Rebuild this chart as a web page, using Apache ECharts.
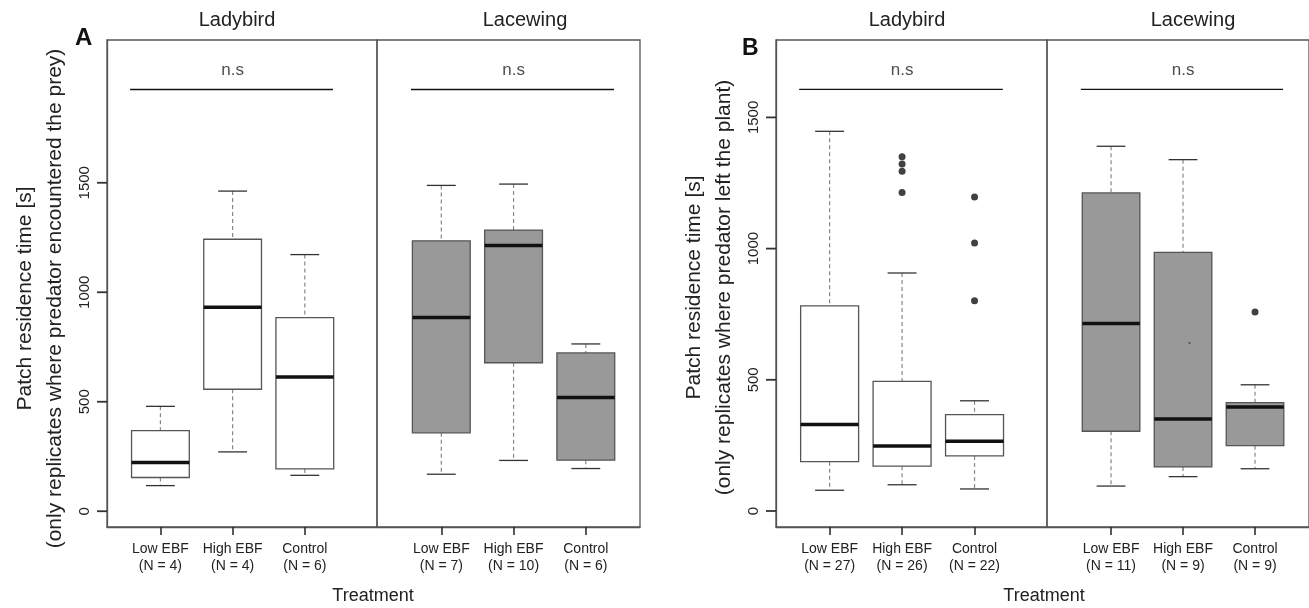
<!DOCTYPE html>
<html>
<head>
<meta charset="utf-8">
<script src="https://cdn.jsdelivr.net/npm/echarts@6/dist/echarts.min.js"></script>
<style>
  html, body { margin: 0; padding: 0; background: #fff; }
  #chart { width: 1309px; height: 608px; }
</style>
</head>
<body>
<div id="chart"></div>
<script>
// treatments on the x axis
const treatments = ['Low EBF', 'High EBF', 'Control'];

// sample sizes
const nA_ladybird = [4, 4, 6];
const nA_lacewing = [7, 10, 6];
const nB_ladybird = [27, 26, 22];
const nB_lacewing = [11, 9, 9];

// box stats: [lower whisker, Q1, median, Q3, upper whisker]
const boxA_ladybird = [
  [117, 154, 222, 368, 479],
  [271, 557, 932, 1242, 1462],
  [164, 193, 613, 884, 1172]
];
const boxA_lacewing = [
  [169, 358, 885, 1235, 1488],
  [232, 678, 1214, 1284, 1494],
  [195, 233, 519, 723, 764]
];
const boxB_ladybird = [
  [79, 188, 330, 782, 1447],
  [100, 171, 248, 494, 907],
  [84, 210, 266, 367, 420]
];
const boxB_lacewing = [
  [95, 304, 715, 1212, 1390],
  [131, 168, 351, 986, 1339],
  [161, 249, 396, 413, 481]
];

// outliers: [treatment position, value]
const outB_ladybird = [[2, 1350], [2, 1322], [2, 1295], [2, 1214], [3, 1197], [3, 1021], [3, 801]];
const outB_lacewing = [[3, 758]];
const dotB_lacewing = [[2.09, 640]];

const yTicks = [0, 500, 1000, 1500];
const sigA = 1926;   // height of n.s bar, panel A
const sigB = 1607;   // panel B
const sigSpan = [0.58, 3.39];

const font = 'Liberation Sans, Arial, Helvetica, sans-serif';

function tickLabels(ns) {
  return function (v) {
    const i = Math.round(v) - 1;
    return treatments[i] + '\n(N = ' + ns[i] + ')';
  };
}

function renderBox(fill) {
  return function (params, api) {
    const x = api.value(0);
    const half = api.size([0.4, 0])[0];
    const capHalf = api.size([0.2, 0])[0];
    const lo = api.coord([x, api.value(1)]);
    const q1 = api.coord([x, api.value(2)]);
    const med = api.coord([x, api.value(3)]);
    const q3 = api.coord([x, api.value(4)]);
    const hi = api.coord([x, api.value(5)]);
    const cx = lo[0];
    const dash = { stroke: '#888', lineWidth: 1.2, lineDash: [4, 3] };
    const cap = { stroke: '#333', lineWidth: 1.3 };
    return {
      type: 'group',
      children: [
        { type: 'line', shape: { x1: cx, y1: hi[1], x2: cx, y2: q3[1] }, style: dash },
        { type: 'line', shape: { x1: cx, y1: q1[1], x2: cx, y2: lo[1] }, style: dash },
        { type: 'line', shape: { x1: cx - capHalf, y1: hi[1], x2: cx + capHalf, y2: hi[1] }, style: cap },
        { type: 'line', shape: { x1: cx - capHalf, y1: lo[1], x2: cx + capHalf, y2: lo[1] }, style: cap },
        { type: 'rect', shape: { x: cx - half, y: q3[1], width: half * 2, height: q1[1] - q3[1] },
          style: { fill: fill, stroke: '#555', lineWidth: 1.3 } },
        { type: 'line', shape: { x1: cx - half, y1: med[1], x2: cx + half, y2: med[1] },
          style: { stroke: '#111', lineWidth: 3.5 } }
      ]
    };
  };
}

const facets = [
  { left: 107, width: 270, xr: [0.26, 4.0], yr: [-72, 2152], ns: nA_ladybird, box: boxA_ladybird, fill: '#ffffff', sig: sigA, out: [],
    yName: 'Patch residence time [s]\n(only replicates where predator encountered the prey)', yShift: 30 },
  { left: 377, width: 263, xr: [0.11, 3.75], yr: [-72, 2152], ns: nA_lacewing, box: boxA_lacewing, fill: '#999999', sig: sigA, out: [] },
  { left: 776, width: 271, xr: [0.26, 4.0], yr: [-61, 1795], ns: nB_ladybird, box: boxB_ladybird, fill: '#ffffff', sig: sigB, out: outB_ladybird,
    yName: 'Patch residence time [s]\n(only replicates where predator left the plant)', yShift: 8 },
  { left: 1047, width: 263, xr: [0.11, 3.75], yr: [-61, 1795], ns: nB_lacewing, box: boxB_lacewing, fill: '#999999', sig: sigB, out: outB_lacewing }
];

const grid = [], xAxis = [], yAxis = [], series = [];

facets.forEach(function (f, k) {
  grid.push({ left: f.left, top: 40, width: f.width, height: 487, show: true,
    borderColor: '#555', borderWidth: 1.3, backgroundColor: 'transparent' });
  xAxis.push({
    type: 'value', gridIndex: k, min: f.xr[0], max: f.xr[1],
    axisLine: { show: true, onZero: false, lineStyle: { color: '#555', width: 1.3 } },
    splitLine: { show: false },
    axisTick: { show: true, customValues: [1, 2, 3], length: 8, lineStyle: { color: '#222', width: 1.5 } },
    axisLabel: { show: true, customValues: [1, 2, 3], formatter: tickLabels(f.ns), margin: 14,
      fontSize: 14, lineHeight: 17, color: '#222', fontFamily: font }
  });
  const hasY = !!f.yName;
  yAxis.push({
    type: 'value', gridIndex: k, min: f.yr[0], max: f.yr[1], show: hasY,
    axisLine: { show: true, onZero: false, lineStyle: { color: '#555', width: 1.3 } },
    splitLine: { show: false },
    axisTick: { show: false },
    axisLabel: { show: true, customValues: yTicks, rotate: 90, margin: 15, fontSize: 15,
      color: '#222', fontFamily: font, formatter: function (v) { return String(v); } },
    name: f.yName || '', nameLocation: 'middle', nameRotate: 90, nameGap: 37,
    nameTextStyle: { fontSize: 21, lineHeight: 30, color: '#222', fontFamily: font,
      padding: [0, f.yShift || 0, 0, 0] }
  });
  series.push({
    type: 'custom', xAxisIndex: k, yAxisIndex: k,
    renderItem: renderBox(f.fill),
    encode: { x: 0, y: [1, 2, 3, 4, 5] },
    data: f.box.map(function (b, i) { return [i + 1].concat(b); }),
    z: 3
  });
  series.push({
    type: 'line', xAxisIndex: k, yAxisIndex: k, symbol: 'none', silent: true,
    lineStyle: { color: '#111', width: 1.3 },
    data: [[sigSpan[0], f.sig], [sigSpan[1], f.sig]]
  });
  series.push({
    type: 'scatter', xAxisIndex: k, yAxisIndex: k, symbolSize: 0, silent: true,
    label: { show: true, position: 'top', distance: 11, formatter: 'n.s',
      fontSize: 17, color: '#222', fontFamily: font },
    data: [[2, f.sig]]
  });
  if (f.out.length) {
    series.push({
      type: 'scatter', xAxisIndex: k, yAxisIndex: k, symbolSize: 7,
      itemStyle: { color: '#111' }, data: f.out, z: 4
    });
  }
});

series.push({
  type: 'scatter', xAxisIndex: 3, yAxisIndex: 3, symbolSize: 2,
  itemStyle: { color: '#333' }, data: dotB_lacewing, z: 4
});

// narrow strips left of each panel frame carry the outward y ticks
facets.forEach(function (f) {
  if (!f.yName) return;
  const g = grid.length;
  grid.push({ left: f.left - 10, top: 40, width: 10, height: 487, show: false });
  xAxis.push({ type: 'value', gridIndex: g, min: 0, max: 1, show: false });
  yAxis.push({ type: 'value', gridIndex: g, min: f.yr[0], max: f.yr[1], show: false });
  yTicks.forEach(function (v) {
    series.push({
      type: 'line', xAxisIndex: g, yAxisIndex: g, symbol: 'none', silent: true, z: 5,
      lineStyle: { color: '#333', width: 1.8 },
      data: [[0, v], [1, v]]
    });
  });
});

const titleStyle = { fontSize: 20, fontWeight: 'normal', color: '#222', fontFamily: font };
const axisTitleStyle = { fontSize: 18, fontWeight: 'normal', color: '#222', fontFamily: font };
const chart = echarts.init(document.getElementById('chart'), null, { renderer: 'canvas' });
chart.setOption({
  animation: false,
  backgroundColor: '#fff',
  textStyle: { fontFamily: font },
  title: [
    { text: 'A', left: 75, top: 26, padding: 0, textStyle: { fontSize: 24, fontWeight: 'bold', color: '#111', fontFamily: font } },
    { text: 'B', left: 742, top: 37, padding: 0, textStyle: { fontSize: 23, fontWeight: 'bold', color: '#111', fontFamily: font } },
    { text: 'Ladybird', left: 237, top: 10, padding: 0, textAlign: 'center', textStyle: titleStyle },
    { text: 'Lacewing', left: 525, top: 10, padding: 0, textAlign: 'center', textStyle: titleStyle },
    { text: 'Ladybird', left: 907, top: 10, padding: 0, textAlign: 'center', textStyle: titleStyle },
    { text: 'Lacewing', left: 1193, top: 10, padding: 0, textAlign: 'center', textStyle: titleStyle },
    { text: 'Treatment', left: 373, top: 587, padding: 0, textAlign: 'center', textStyle: axisTitleStyle },
    { text: 'Treatment', left: 1044, top: 587, padding: 0, textAlign: 'center', textStyle: axisTitleStyle }
  ],
  grid: grid,
  xAxis: xAxis,
  yAxis: yAxis,
  series: series
});
</script>
</body>
</html>
